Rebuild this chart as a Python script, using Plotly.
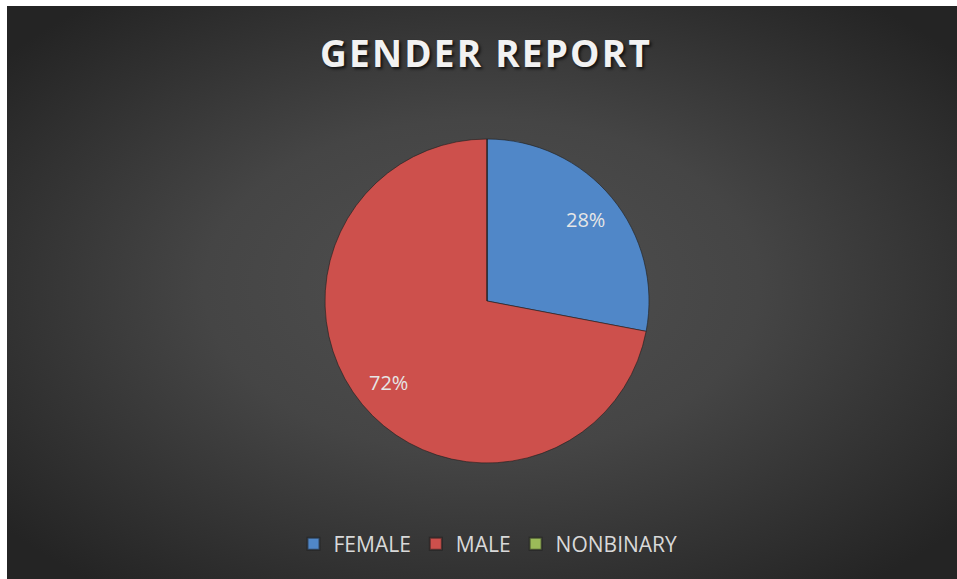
import base64
import math
import plotly.graph_objects as go

labels = ["FEMALE", "MALE", "NONBINARY"]
values = [28, 72, 0]
colors = ["#5087C8", "#CD504C", "#9BBB59"]
title_text = "GENDER REPORT"

W, H = 957, 579
# pie geometry in pixels (layout, not data)
PCX, PCY, PR = 487, 301, 162
LABEL_R = 0.79

svg = f'''<svg xmlns="http://www.w3.org/2000/svg" width="{W}" height="{H}" viewBox="0 0 {W} {H}" preserveAspectRatio="none">
<defs><radialGradient id="g" cx="50%" cy="50%" r="65%" fx="50%" fy="48%">
<stop offset="0%" stop-color="#505050"/>
<stop offset="45%" stop-color="#454545"/>
<stop offset="100%" stop-color="#242424"/>
</radialGradient></defs>
<rect x="0" y="0" width="{W}" height="{H}" fill="url(#g)"/>
</svg>'''
bg_uri = "data:image/svg+xml;base64," + base64.b64encode(svg.encode()).decode()

fig = go.Figure(go.Pie(
    labels=labels,
    values=values,
    marker=dict(colors=colors, line=dict(color="rgba(30,30,30,0.6)", width=1)),
    sort=False,
    direction="clockwise",
    rotation=0,
    textinfo="none",
    showlegend=True,
    domain=dict(x=[(PCX - PR) / W, (PCX + PR) / W], y=[1 - (PCY + PR) / H, 1 - (PCY - PR) / H]),
    hoverinfo="label+percent",
))

# percentage labels placed on each slice's bisector (Excel-style best fit)
total = sum(values)
annotations = []
cum = 0
for lab, v in zip(labels, values):
    if v > 0:
        mid = (cum + v / 2) / total * 2 * math.pi
        px = PCX + LABEL_R * PR * math.sin(mid)
        py = PCY - LABEL_R * PR * math.cos(mid)
        annotations.append(dict(
            text=f"{round(v / total * 100)}%", x=px / W, y=1 - py / H,
            xref="paper", yref="paper", showarrow=False,
            xanchor="center", yanchor="middle",
            font=dict(family="Open Sans", size=20, color="#E6E6E6")))
    cum += v

fig.update_layout(
    width=W, height=H,
    margin=dict(l=0, r=0, t=0, b=0),
    paper_bgcolor="white",
    plot_bgcolor="rgba(0,0,0,0)",
    images=[dict(source=bg_uri, xref="paper", yref="paper",
                 x=7 / W, y=1 - 6 / H, sizex=1 - 7 / W, sizey=1 - 6 / H,
                 xanchor="left", yanchor="top", sizing="stretch", layer="below")],
    title=dict(text=f"<b>{title_text}</b>", x=486 / W, xanchor="center",
               y=1 - 54 / H, yanchor="middle",
               font=dict(family="Open Sans", size=37, color="#F2F2F2",
                         shadow="2px 2px 3px rgba(0,0,0,0.7)")),
    legend=dict(orientation="h", x=488 / W, xanchor="center",
                y=1 - 544 / H, yanchor="middle",
                font=dict(family="Open Sans", size=21, color="#D9D9D9"),
                bgcolor="rgba(0,0,0,0)", itemsizing="constant"),
    annotations=annotations,
)

post = """
document.body.style.margin='0';
document.body.style.overflow='hidden';
var gd=document.getElementById('{plot_id}');
function ls(){var t=gd.querySelector('.gtitle'); if(t){t.style.letterSpacing='2.2px';}}
ls();
if(gd.on){gd.on('plotly_afterplot', ls);}
"""
fig.write_html("out.html", post_script=post, config={"displayModeBar": False})
